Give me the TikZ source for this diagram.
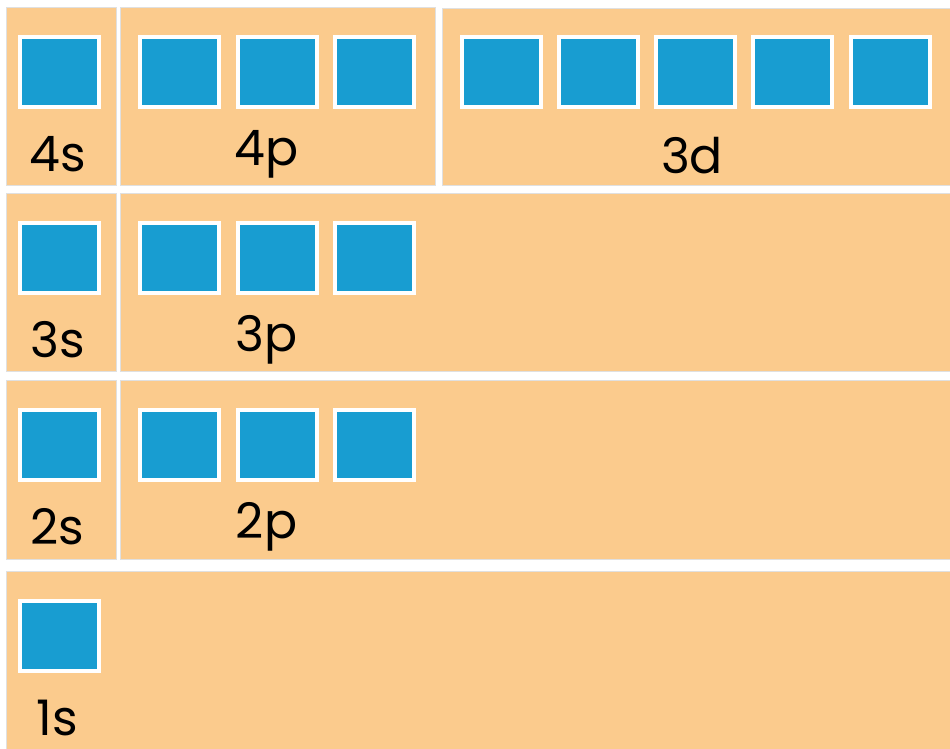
\documentclass[tikz,border=0pt]{standalone}
\usepackage{fontspec}
\setmainfont{Poppins}
\usetikzlibrary{shadows}
\definecolor{panelorange}{RGB}{251,203,141}
\definecolor{orbitalblue}{RGB}{24,157,209}

\begin{document}
\begin{tikzpicture}[x=1pt, y=-1pt,
    panel/.style={fill=panelorange, draw=black!12, line width=0.6pt},
    orbital/.style={rectangle, fill=orbitalblue, draw=white, line width=4pt,
        minimum width=79pt, minimum height=70pt, inner sep=0pt,
        drop shadow={shadow xshift=1.5pt, shadow yshift=-1.5pt, fill=black!70!brown, opacity=0.7}},
    subshell/.style={font=\fontsize{49}{52}\selectfont, anchor=base, inner sep=0pt}
]
    \fill[white] (0,0) rectangle (950,748);
    \useasboundingbox (0,0) rectangle (950,748);
    % Panels, row by row
    \draw[panel] (6,7) rectangle (116,185);
    \draw[panel] (120,7) rectangle (435,185);
    \draw[panel] (442,8) rectangle (953,185);
    \draw[panel] (6,193) rectangle (116,371);
    \draw[panel] (120,193) rectangle (953,371);
    \draw[panel] (6,380) rectangle (116,559);
    \draw[panel] (120,380) rectangle (953,559);
    \draw[panel] (6,571) rectangle (953,751);
    % s orbitals
    \foreach \n/\t in {4/7, 3/193, 2/380, 1/571} {
        \node[orbital] (s\n) at (59.5, \t+65) {};
        \node[subshell] (ls\n) at (57.5, \t+164) {\n s};
    }
    % p orbitals
    \foreach \n/\t in {4/7, 3/193, 2/380} {
        \foreach \k/\x in {1/179, 2/277, 3/374} {
            \node[orbital] (p\n-\k) at (\x, \t+65) {};
        }
        \node[subshell] (lp\n) at (266.5, \t+158) {\n p};
    }
    % d orbitals
    \foreach \k/\x in {1/501.5, 2/598.5, 3/695.5, 4/792.5, 5/890.5} {
        \node[orbital] (d3-\k) at (\x, 72) {};
    }
    \node[subshell] (ld3) at (692, 173) {3d};
\end{tikzpicture}
\end{document}
